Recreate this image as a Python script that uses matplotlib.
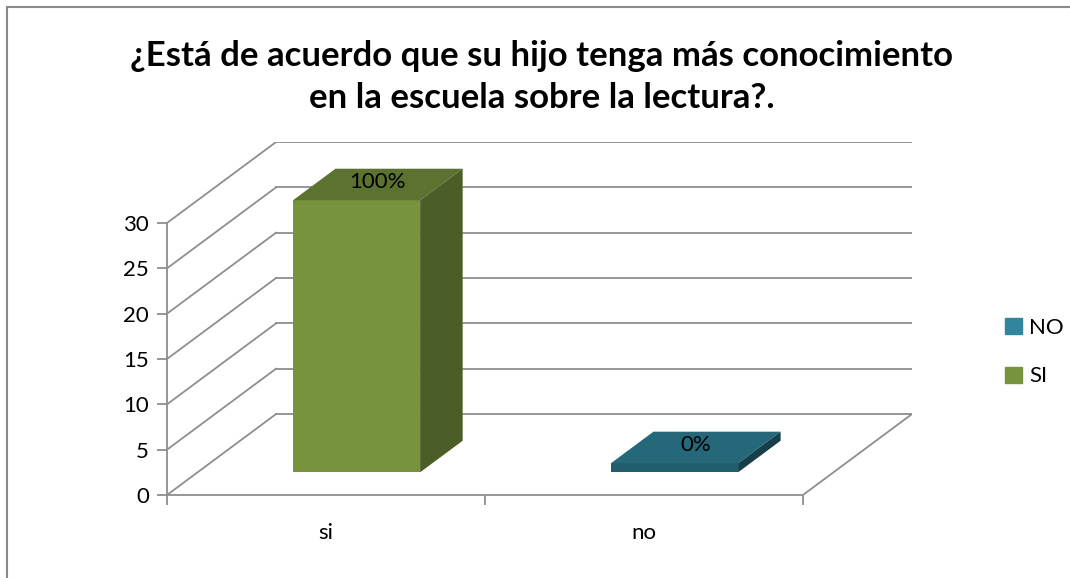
import matplotlib
matplotlib.use('Agg')
import matplotlib.pyplot as plt
from matplotlib.patches import Polygon, Rectangle

# ---------------------------------
# data
categories = ['si', 'no']
series = ['SI', 'NO']
values = [30, 1]
pct_labels = ['100%', '0%']
yticks = [0, 5, 10, 15, 20, 25, 30]

# colours: front, top, side
front_cols = {'SI': '#77933C', 'NO': '#215E6D'}
top_cols = {'SI': '#5B7230', 'NO': '#24687A'}
side_cols = {'SI': '#4B5E27', 'NO': '#173F4A'}
legend_cols = {'SI': '#77933C', 'NO': '#31859C'}

plt.rcParams['font.family'] = ['Lato', 'DejaVu Sans']

# depth of the 3d box in data units
DX = 0.343
DY = 8.93
f0, f1 = 0.28, 0.67   # bar depth span (fraction of depth)
half = 0.2            # half bar width
grid_col = '#8E8E8E'

fig = plt.figure(figsize=(10.7, 5.78), dpi=100)
ax = fig.add_axes([167 / 1070, 83 / 578, 745 / 1070, 353 / 578])
ax.set_xlim(0, len(categories) + DX)
ax.set_ylim(0, yticks[-1] + DY)

# back wall + side wall gridlines
for y in yticks:
    ax.plot([DX, len(categories) + DX], [y + DY, y + DY], color=grid_col, lw=1.3, zorder=1)
    ax.plot([0, DX], [y, y + DY], color=grid_col, lw=1.3, zorder=1)
# right floor edge
ax.plot([len(categories), len(categories) + DX], [0, DY], color=grid_col, lw=1.3, zorder=1)

# bars
for i, (cat, s, v, lab) in enumerate(zip(categories, series, values, pct_labels)):
    c = i + 0.5
    x0 = c - half
    x1 = c + half
    ax.bar(c + f0 * DX, v, width=2 * half, bottom=f0 * DY,
           color=front_cols[s], zorder=3, linewidth=0)
    top = [(x0 + f0 * DX, v + f0 * DY), (x1 + f0 * DX, v + f0 * DY),
           (x1 + f1 * DX, v + f1 * DY), (x0 + f1 * DX, v + f1 * DY)]
    side = [(x1 + f0 * DX, f0 * DY), (x1 + f1 * DX, f1 * DY),
            (x1 + f1 * DX, v + f1 * DY), (x1 + f0 * DX, v + f0 * DY)]
    ax.add_patch(Polygon(top, closed=True, facecolor=top_cols[s], lw=0, zorder=3))
    ax.add_patch(Polygon(side, closed=True, facecolor=side_cols[s], lw=0, zorder=3))
    ax.text(c + (f0 + f1) / 2 * DX, v + (f0 + f1) / 2 * DY + 0.3, lab,
            ha='center', va='center', fontsize=16, zorder=4)

# axes styling
for sp in ['top', 'right']:
    ax.spines[sp].set_visible(False)
ax.spines['left'].set_bounds(0, yticks[-1])
ax.spines['bottom'].set_bounds(0, len(categories))
for sp in ['left', 'bottom']:
    ax.spines[sp].set_color(grid_col)
    ax.spines[sp].set_linewidth(1.3)

ax.set_yticks(yticks)
ax.tick_params(axis='y', length=7, width=1.3, color=grid_col, labelsize=16, pad=6)
ax.set_xticks(range(len(categories) + 1), minor=True)
ax.set_xticks([i + 0.5 for i in range(len(categories))])
ax.set_xticklabels(categories, fontsize=16)
ax.tick_params(axis='x', which='major', length=0, pad=20)
ax.tick_params(axis='x', which='minor', length=7, width=1.3, color=grid_col)

# legend
handles = [Rectangle((0, 0), 1, 1, color=legend_cols[s]) for s in ['NO', 'SI']]
fig.legend(handles, ['NO', 'SI'], loc='center left', bbox_to_anchor=(0.921, 0.391),
           frameon=False, fontsize=16, handlelength=0.75, handleheight=0.75,
           handletextpad=0.3, labelspacing=1.3)

# title
fig.text(0.506, 1 - 77 / 578,
         '¿Está de acuerdo que su hijo tenga más conocimiento\nen la escuela sobre la lectura?.',
         ha='center', va='center', fontsize=25, fontweight='bold', linespacing=1.38)

# chart border
fig.add_artist(Rectangle((7 / 1070, -0.1), 1.2, 1 - 7 / 578 + 0.1, transform=fig.transFigure,
                         fill=False, edgecolor='#8A8A8A', lw=1.5))

fig.savefig('out.png', dpi=100)
